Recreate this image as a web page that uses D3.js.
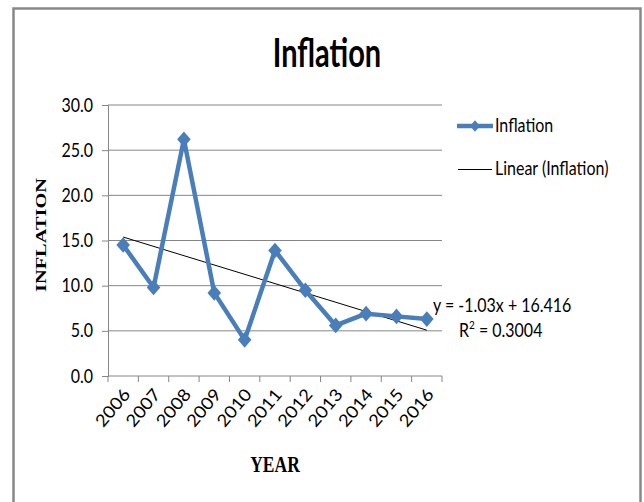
<!DOCTYPE html>
<html>
<head>
<meta charset="utf-8">
<script src="https://cdn.jsdelivr.net/npm/d3@7"></script>
<style>
  html, body { margin: 0; padding: 0; background: #fff; }
  svg { display: block; }
  text { fill: #000; }
  .sans { font-family: Lato, "Open Sans", sans-serif; }
  .serif { font-family: "Liberation Serif", "DejaVu Serif", serif; font-weight: 700; }
</style>
</head>
<body>
<svg id="chart" width="644" height="502"></svg>
<script>
// ---- data ----
const years = ["2006","2007","2008","2009","2010","2011","2012","2013","2014","2015","2016"];
const inflation = [14.5, 9.8, 26.2, 9.2, 4.0, 13.9, 9.5, 5.6, 6.9, 6.6, 6.3];
const yTicks = [0, 5, 10, 15, 20, 25, 30];
const seriesName = "Inflation";
const trendName = "Linear (Inflation)";
const equationText = "y = -1.03x + 16.416";
const titleText = "Inflation";
const xTitle = "YEAR";
const yTitle = "INFLATION";

// ---- layout ----
const svg = d3.select("#chart");
const plotL = 108, plotR = 442, plotT = 105, plotB = 376;
const blue = "#4a7ebb", grid = "#868686";

svg.append("rect").attr("x", 13.5).attr("y", 8.5).attr("width", 627).attr("height", 520)
  .attr("fill", "#fff").attr("stroke", "#888").attr("stroke-width", 2.5);

const x = d3.scaleBand().domain(years).range([plotL, plotR]).padding(0);
const cx = d => x(d) + x.bandwidth() / 2;
const y = d3.scaleLinear().domain([0, 30]).range([plotB, plotT]);

// gridlines
svg.append("g").selectAll("line").data(yTicks.filter(t => t > 0)).join("line")
  .attr("x1", plotL).attr("x2", plotR)
  .attr("y1", d => y(d)).attr("y2", d => y(d))
  .attr("stroke", grid).attr("stroke-width", 1);

// y axis
const yAxis = svg.append("g").attr("transform", `translate(${plotL},0)`)
  .call(d3.axisLeft(y).tickValues(yTicks).tickFormat(d3.format(".1f")).tickSize(6).tickPadding(9));
yAxis.selectAll("path, line").attr("stroke", grid);
yAxis.selectAll("text").attr("class", "sans").attr("font-size", 16)
  .attr("dy", null).attr("y", 0)
  .attr("transform", "translate(0,6) scale(1,1.15)");

// x axis
const xAxisG = svg.append("g").attr("transform", `translate(0,${plotB})`);
xAxisG.append("line").attr("x1", plotL).attr("x2", plotR).attr("stroke", grid);
xAxisG.selectAll("line.tk").data(years.concat(["__end"])).join("line").attr("class", "tk")
  .attr("x1", d => d === "__end" ? plotR : x(d)).attr("x2", d => d === "__end" ? plotR : x(d))
  .attr("y1", 0).attr("y2", 6).attr("stroke", grid);
xAxisG.selectAll("text").data(years).join("text").attr("class", "sans")
  .attr("text-anchor", "end").attr("font-size", 17)
  .attr("transform", d => `translate(${cx(d) + 8},${19}) rotate(-50) scale(1.1,1)`)
  .text(d => d);

// trendline from least squares
const n = inflation.length;
const xs = inflation.map((_, i) => i + 1);
const mx = d3.mean(xs), my = d3.mean(inflation);
const slope = d3.sum(xs, (xi, i) => (xi - mx) * (inflation[i] - my)) / d3.sum(xs, xi => (xi - mx) ** 2);
const intercept = my - slope * mx;
svg.append("line")
  .attr("x1", cx(years[0])).attr("y1", y(intercept + slope * 1))
  .attr("x2", cx(years[n - 1])).attr("y2", y(intercept + slope * n))
  .attr("stroke", "#000").attr("stroke-width", 1);

// series
const pts = years.map((yr, i) => ({ yr, v: inflation[i] }));
svg.append("path").datum(pts)
  .attr("d", d3.line().x(d => cx(d.yr)).y(d => y(d.v)))
  .attr("fill", "none").attr("stroke", blue).attr("stroke-width", 4.5).attr("stroke-linejoin", "round");
const diamond = d3.symbol(d3.symbolSquare, 92)();
svg.append("g").selectAll("path").data(pts).join("path")
  .attr("d", diamond)
  .attr("transform", d => `translate(${cx(d.yr)},${y(d.v)}) scale(1,1.15) rotate(45)`)
  .attr("fill", blue);

// trendline label
svg.append("text").attr("class", "sans").attr("font-size", 16)
  .attr("transform", "translate(433,312) scale(1,1.18)").text(equationText);
const r2 = svg.append("text").attr("class", "sans").attr("font-size", 16)
  .attr("transform", "translate(459,337) scale(1,1.18)");
r2.append("tspan").text("R");
r2.append("tspan").attr("font-size", 10).attr("dy", -7).text("2");
r2.append("tspan").attr("dy", 7).text(" = 0.3004");

// legend
svg.append("line").attr("x1", 457).attr("x2", 493).attr("y1", 126).attr("y2", 126)
  .attr("stroke", blue).attr("stroke-width", 4.5);
svg.append("path").attr("d", d3.symbol(d3.symbolSquare, 50)())
  .attr("transform", "translate(475,126) scale(1,1.15) rotate(45)").attr("fill", blue);
svg.append("text").attr("class", "sans").attr("font-size", 16)
  .attr("transform", "translate(495,132) scale(1,1.18)").text(seriesName);
svg.append("line").attr("x1", 458).attr("x2", 492).attr("y1", 169.5).attr("y2", 169.5)
  .attr("stroke", "#000").attr("stroke-width", 1);
svg.append("text").attr("class", "sans").attr("font-size", 16)
  .attr("transform", "translate(495,175) scale(1,1.18)").text(trendName);

// title
svg.append("text").attr("class", "sans").attr("text-anchor", "middle").attr("font-size", 29)
  .style("font-weight", 700)
  .attr("transform", "translate(327,67) scale(1,1.35)").text(titleText);

// axis titles
svg.append("text").attr("class", "serif").attr("text-anchor", "middle").attr("font-size", 17.5)
  .attr("transform", "translate(275,472) scale(1,1.28)").text(xTitle);
svg.append("text").attr("class", "serif").attr("text-anchor", "middle").attr("font-size", 15)
  .attr("transform", "translate(46,235) rotate(-90) scale(1.36,1)").text(yTitle);
</script>
</body>
</html>
